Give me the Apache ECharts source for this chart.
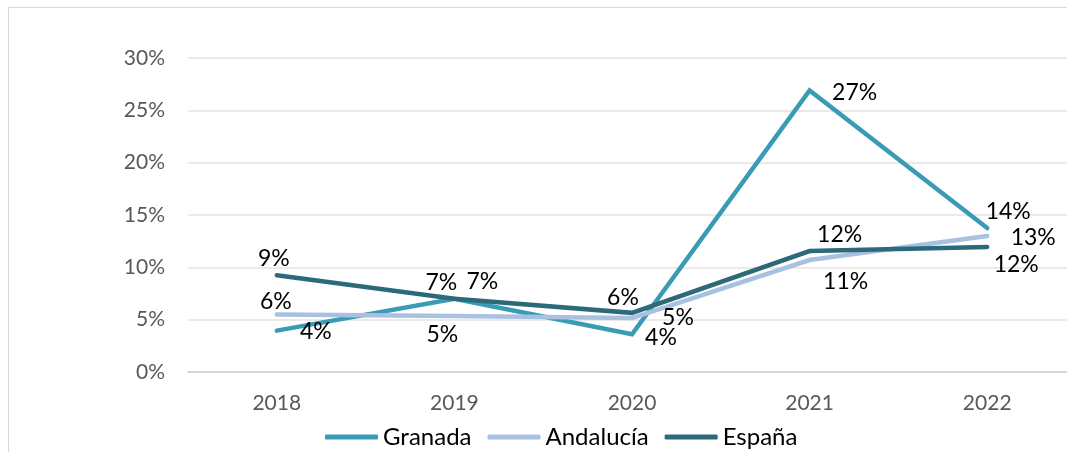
<!DOCTYPE html>
<html>
<head>
<meta charset="utf-8">
<style>
  html, body { margin: 0; padding: 0; background: #fff; }
  #main { width: 1067px; height: 452px; }
</style>
<script src="https://cdn.jsdelivr.net/npm/echarts@6/dist/echarts.min.js"></script>
</head>
<body>
<div id="main"></div>
<script>
const years = ["2018", "2019", "2020", "2021", "2022"];
const granada = [3.95, 7.0, 3.6, 26.9, 13.75];
const andalucia = [5.5, 5.35, 5.15, 10.7, 13.0];
const espana = [9.25, 7.0, 5.65, 11.55, 11.95];

// label nudges (px) per point, to sit where the original had them
const granadaOffsets = [[39, 1], [28, -17], [29, 3], [45, 2], [21, -17]];
const andaluciaOffsets = [[-1, -13], [-12, 19], [46, -1], [36, 22], [46, 2]];
const espanaOffsets = [[-3, -17], [-13, -16], [-9, -15], [30, -17], [29, 18]];

const font = "Lato, 'Open Sans', sans-serif";

const chart = echarts.init(document.getElementById("main"), null, { renderer: "canvas" });

function makeSeries(name, values, offsets, color) {
  return {
    name,
    type: "line",
    data: values.map((v, i) => ({
      value: v,
      label: { offset: offsets[i] },
    })),
    symbol: "circle",
    symbolSize: 0.1,
    showSymbol: true,
    itemStyle: { color },
    lineStyle: { color, width: 4.5, cap: "round", join: "miter" },
    label: {
      show: true,
      position: "inside",
      color: "#000",
      fontFamily: font,
      fontSize: 23,
      formatter: (p) => Math.round(p.value) + "%",
    },
    emphasis: { disabled: true },
    animation: false,
  };
}

const options = {
  animation: false,
  graphic: [
    {
      type: "rect",
      shape: { x: 8.5, y: 7.5, width: 1200, height: 600 },
      style: { fill: "none", stroke: "#d9d9d9", lineWidth: 1 },
      silent: true,
    },
  ],
  grid: { left: 188, top: 58, width: 888, height: 314, outerBoundsMode: "none" },
  legend: {
    left: 320,
    top: 420,
    itemWidth: 53,
    itemHeight: 5,
    itemGap: 16,
    icon: "roundRect",
    textStyle: { color: "#000", fontFamily: font, fontSize: 24 },
    data: ["Granada", "Andalucía", "España"],
  },
  xAxis: {
    type: "category",
    data: years,
    boundaryGap: true,
    axisLine: { lineStyle: { color: "#d0d0d0", width: 1.5 } },
    axisTick: { show: false },
    axisLabel: { color: "#595959", fontFamily: font, fontSize: 21, margin: 21 },
  },
  yAxis: {
    type: "value",
    min: 0,
    max: 30,
    interval: 5,
    axisLine: { show: false },
    axisTick: { show: false },
    splitLine: { lineStyle: { color: "#e3e3e3", width: 1.5 } },
    axisLabel: {
      color: "#595959",
      fontFamily: font,
      fontSize: 21,
      margin: 23,
      formatter: "{value}%",
    },
  },
  series: [
    makeSeries("Granada", granada, granadaOffsets, "#3a9bb4"),
    makeSeries("Andalucía", andalucia, andaluciaOffsets, "#a9c1e1"),
    makeSeries("España", espana, espanaOffsets, "#2c6a7a"),
  ],
};

chart.setOption(options);
</script>
</body>
</html>
